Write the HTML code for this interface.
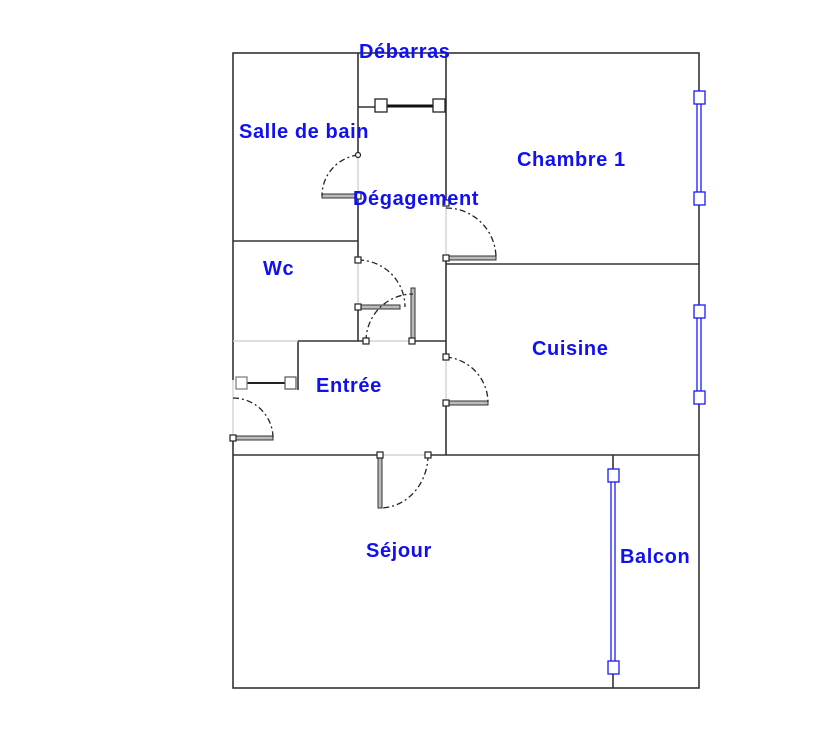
<!DOCTYPE html>
<html><head><meta charset="utf-8"><style>
body{margin:0;background:#fff;width:831px;height:745px;overflow:hidden}
svg text{font-family:"Liberation Sans",sans-serif;font-weight:bold;font-size:20px;letter-spacing:0.6px;fill:#1010f0}
</style></head><body>
<svg width="831" height="745" viewBox="0 0 831 745">
<g fill="none" stroke="#333" stroke-width="1.6">
<rect x="233" y="53" width="466" height="635"/>
<line x1="358" y1="53" x2="358" y2="155"/>
<line x1="358" y1="196" x2="358" y2="260"/>
<line x1="358" y1="307" x2="358" y2="341"/>
<line x1="233" y1="241" x2="358" y2="241"/>
<line x1="446" y1="53" x2="446" y2="203"/>
<line x1="446" y1="258" x2="446" y2="357"/>
<line x1="446" y1="403" x2="446" y2="455"/>
<line x1="446" y1="264" x2="699" y2="264"/>
<line x1="298" y1="341" x2="366" y2="341"/>
<line x1="412" y1="341" x2="446" y2="341"/>
<line x1="298" y1="341" x2="298" y2="390"/>
<line x1="233" y1="455" x2="380" y2="455"/>
<line x1="428" y1="455" x2="699" y2="455"/>
<line x1="613" y1="455" x2="613" y2="688"/>
<line x1="358" y1="107" x2="381" y2="107"/>
</g>
<g stroke="#ccc" stroke-width="1.2" fill="none">
<line x1="233" y1="341" x2="298" y2="341"/>
<line x1="366" y1="341" x2="412" y2="341"/>
<line x1="380" y1="455" x2="428" y2="455"/>
<line x1="446" y1="203" x2="446" y2="258"/>
<line x1="446" y1="357" x2="446" y2="403"/>
<line x1="358" y1="155" x2="358" y2="196"/>
<line x1="358" y1="260" x2="358" y2="307"/>
</g>
<rect x="231" y="380" width="4" height="58" fill="#fff"/>
<line x1="233" y1="380" x2="233" y2="438" stroke="#ccc" stroke-width="1.2"/>
<g fill="#bbb" stroke="#333" stroke-width="1">
<rect x="322" y="194" width="36" height="4"/>
<rect x="446" y="256" width="50" height="4"/>
<rect x="358" y="305" width="42" height="4"/>
<rect x="411" y="288" width="4" height="53"/>
<rect x="446" y="401" width="42" height="4"/>
<rect x="233" y="436" width="40" height="4"/>
<rect x="378" y="455" width="4" height="53"/>
</g>
<g fill="none" stroke="#222" stroke-width="1.3" stroke-dasharray="6,3,2,3">
<path d="M358 155 A41 41 0 0 0 322 196"/>
<path d="M446 208 A50 50 0 0 1 496 258"/>
<path d="M358 260 A47 47 0 0 1 405 307"/>
<path d="M366 341 A47 47 0 0 1 413 294"/>
<path d="M446 357 A46 46 0 0 1 488 403"/>
<path d="M233 398 A40 40 0 0 1 273 438"/>
<path d="M428 455 A48 53 0 0 1 380 508"/>
</g>
<g fill="#fff" stroke="#222" stroke-width="1.2">
<circle cx="358" cy="155" r="2.5"/>
<rect x="355" y="193" width="6" height="6"/>
<rect x="443" y="200" width="6" height="6"/>
<rect x="443" y="255" width="6" height="6"/>
<rect x="355" y="257" width="6" height="6"/>
<rect x="355" y="304" width="6" height="6"/>
<rect x="363" y="338" width="6" height="6"/>
<rect x="409" y="338" width="6" height="6"/>
<rect x="443" y="354" width="6" height="6"/>
<rect x="443" y="400" width="6" height="6"/>
<rect x="230" y="435" width="6" height="6"/>
<rect x="377" y="452" width="6" height="6"/>
<rect x="425" y="452" width="6" height="6"/>
</g>
<line x1="381" y1="106" x2="439" y2="106" stroke="#111" stroke-width="3"/>
<rect x="375" y="99" width="12" height="13" fill="#fff" stroke="#222" stroke-width="1.3"/>
<rect x="433" y="99" width="12" height="13" fill="#fff" stroke="#222" stroke-width="1.3"/>
<line x1="247" y1="383" x2="285" y2="383" stroke="#222" stroke-width="2"/>
<rect x="236" y="377" width="11" height="12" fill="#fff" stroke="#777" stroke-width="1.2"/>
<rect x="285" y="377" width="11" height="12" fill="#fff" stroke="#555" stroke-width="1.2"/>
<g stroke="#1a1aff" stroke-width="1.3" fill="#fff">
<rect x="697" y="98" width="4" height="100"/>
<rect x="694" y="91" width="11" height="13"/>
<rect x="694" y="192" width="11" height="13"/>
<rect x="697" y="312" width="4" height="86"/>
<rect x="694" y="305" width="11" height="13"/>
<rect x="694" y="391" width="11" height="13"/>
<rect x="611" y="476" width="4" height="192"/>
<rect x="608" y="469" width="11" height="13"/>
<rect x="608" y="661" width="11" height="13"/>
</g>
<text x="359" y="58">Débarras</text>
<text x="239" y="138">Salle de bain</text>
<text x="517" y="166">Chambre 1</text>
<text x="353" y="205">Dégagement</text>
<text x="263" y="275">Wc</text>
<text x="532" y="355">Cuisine</text>
<text x="316" y="392">Entrée</text>
<text x="366" y="557">Séjour</text>
<text x="620" y="563">Balcon</text>
</svg>
</body></html>
